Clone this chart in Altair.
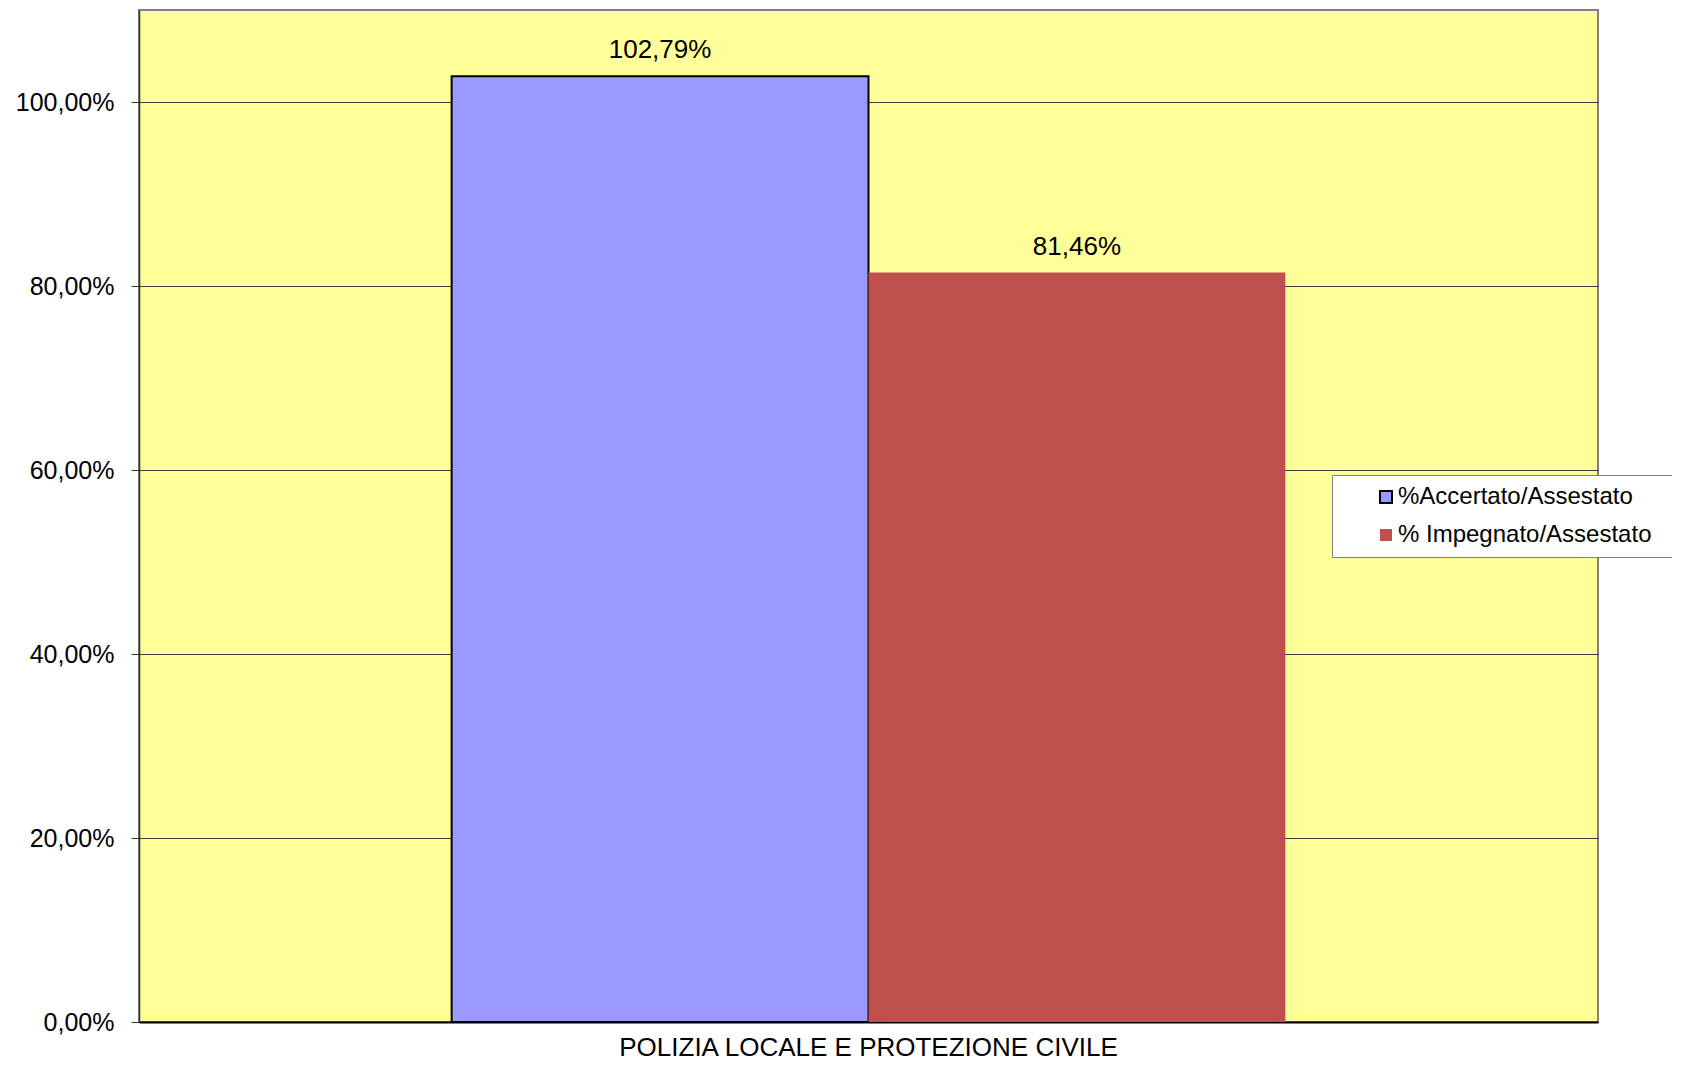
import altair as alt
import pandas as pd

categories = ["POLIZIA LOCALE E PROTEZIONE CIVILE"]
series = ["%Accertato/Assestato", "% Impegnato/Assestato"]
values = [102.79, 81.46]
colors = ["#9999FF", "#C0504D"]
strokes = ["#000000", "transparent"]
y_ticks = [0, 20, 40, 60, 80, 100]

df = pd.DataFrame({
    "categoria": [categories[0]] * len(series),
    "serie": series,
    "valore": values,
})

FONT = "Liberation Sans"

x = alt.X("categoria:N", title=None,
          scale=alt.Scale(paddingInner=0, paddingOuter=0.375),
          axis=alt.Axis(labelAngle=0, ticks=False, labelFontSize=26, labelFont=FONT,
                        labelColor="#000000", labelPadding=12, labelLimit=0,
                        domainColor="#000000", domainWidth=2))
xoff = alt.XOffset("serie:N", sort=series,
                   scale=alt.Scale(domain=series, paddingInner=0, paddingOuter=0))
y = alt.Y("valore:Q", title=None,
          scale=alt.Scale(domain=[0, 110], nice=False, zero=True),
          axis=alt.Axis(values=y_ticks,
                        labelExpr="replace(format(datum.value, '.2f'), '.', ',') + '%'",
                        labelFontSize=25, labelFont=FONT, labelColor="#000000",
                        labelPadding=17, tickSize=8, tickColor="#333333", labelLimit=0,
                        domainColor="#333333", domainWidth=1.5,
                        grid=True, gridColor="#3a3a3a", gridWidth=1))

# legend box runs to the right edge of the window, as in the reference
legend_kw = dict(
    title=None, orient="none", legendX=1193, legendY=465,
    fillColor="#FFFFFF", strokeColor="#808080", padding=10,
    symbolType="square", symbolSize=144, symbolOffset=32,
    symbolStrokeWidth=2, labelOffset=0, rowPadding=14, labelLimit=0,
    labelFontSize=24, labelFont=FONT, labelColor="#000000",
    labelExpr="datum.label + '\u2800'",
)

bars = alt.Chart(df).mark_bar(strokeWidth=2).encode(
    x=x, xOffset=xoff, y=y,
    fill=alt.Fill("serie:N", sort=series,
                  scale=alt.Scale(domain=series, range=colors),
                  legend=alt.Legend(**legend_kw)),
    stroke=alt.Stroke("serie:N", sort=series,
                      scale=alt.Scale(domain=series, range=strokes),
                      legend=alt.Legend(**legend_kw)),
)

labels = alt.Chart(df).transform_calculate(
    etichetta="replace(format(datum.valore, '.2f'), '.', ',') + '%'"
).mark_text(font=FONT, fontSize=26, color="#000000", baseline="alphabetic", dy=-18).encode(
    x=x, xOffset=xoff, y=y, text="etichetta:N"
)

chart = alt.layer(bars, labels).properties(
    width=1459, height=1012,
    autosize=alt.AutoSizeParams(type="none"),
    padding={"left": 131, "top": 2, "right": 74, "bottom": 39},
).configure_view(
    fill="#FFFF99", stroke="#808080", strokeWidth=2
)

chart.save("out.html", embed_options={"renderer": "svg", "actions": False})
